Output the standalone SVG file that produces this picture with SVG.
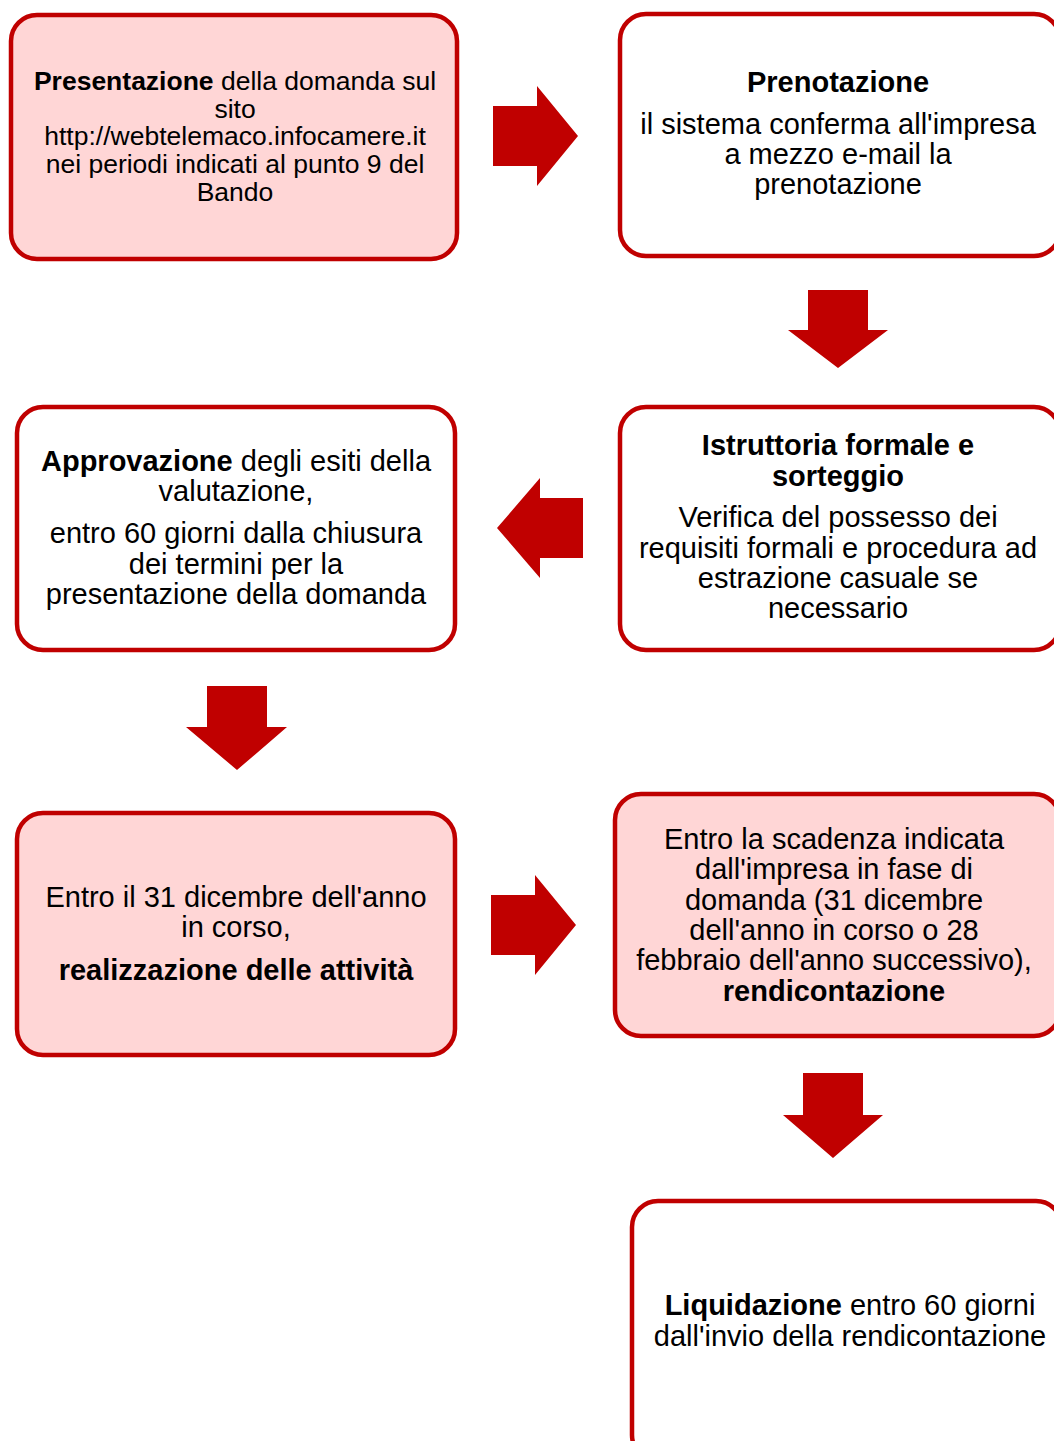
<svg xmlns="http://www.w3.org/2000/svg" width="1054" height="1441" viewBox="0 0 1054 1441">
<style>
.box{stroke:#C00000;stroke-width:4.5}
.pink{fill:#FFD6D6}
.white{fill:#FFFFFF}
.arr{fill:#C00000}
text{font-family:"Liberation Sans",Arial,sans-serif;font-size:29px;fill:#000;text-anchor:middle}
.s{font-size:26.5px}
.b{font-weight:bold}
</style>
<rect width="1054" height="1441" fill="#FFFFFF"/>
<g id="connectors">
<polygon class="arr" points="493,106 537,106 537,86 578,136 537,186 537,166 493,166"/>
<polygon class="arr" points="808,290 868,290 868,330 888,330 838,368 788,330 808,330"/>
<polygon class="arr" points="583,498 540,498 540,478 497,528 540,578 540,558 583,558"/>
<polygon class="arr" points="207,686 267,686 267,727 287,727 237,770 186,727 207,727"/>
<polygon class="arr" points="491,895 535,895 535,875 576,925 535,975 535,955 491,955"/>
<polygon class="arr" points="803,1073 863,1073 863,1115 883,1115 833,1158 783,1115 803,1115"/>
</g>
<g id="node1">
<rect class="box pink" x="11" y="15" width="446" height="244" rx="26"/>
<text class="s" x="235" y="90"><tspan class="b">Presentazione</tspan> della domanda sul</text>
<text class="s" x="235" y="118">sito</text>
<text class="s" x="235" y="145">http://webtelemaco.infocamere.it</text>
<text class="s" x="235" y="173">nei periodi indicati al punto 9 del</text>
<text class="s" x="235" y="201">Bando</text>
</g>
<g id="node2">
<rect class="box white" x="620" y="14" width="440" height="242" rx="26"/>
<text class="b" x="838" y="92">Prenotazione</text>
<text x="838" y="134">il sistema conferma all'impresa</text>
<text x="838" y="164">a mezzo e-mail la</text>
<text x="838" y="194">prenotazione</text>
</g>
<g id="node3">
<rect class="box white" x="620" y="407" width="440" height="243" rx="26"/>
<text class="b" x="838" y="455">Istruttoria formale e</text>
<text class="b" x="838" y="486">sorteggio</text>
<text x="838" y="527">Verifica del possesso dei</text>
<text x="838" y="558">requisiti formali e procedura ad</text>
<text x="838" y="588">estrazione casuale se</text>
<text x="838" y="618">necessario</text>
</g>
<g id="node4">
<rect class="box white" x="17" y="407" width="438" height="243" rx="26"/>
<text x="236" y="471"><tspan class="b">Approvazione</tspan> degli esiti della</text>
<text x="236" y="501">valutazione,</text>
<text x="236" y="543">entro 60 giorni dalla chiusura</text>
<text x="236" y="574">dei termini per la</text>
<text x="236" y="604">presentazione della domanda</text>
</g>
<g id="node5">
<rect class="box pink" x="17" y="813" width="438" height="242" rx="26"/>
<text x="236" y="907">Entro il 31 dicembre dell'anno</text>
<text x="236" y="937">in corso,</text>
<text class="b" x="236" y="980">realizzazione delle attività</text>
</g>
<g id="node6">
<rect class="box pink" x="615" y="794" width="445" height="242" rx="26"/>
<text x="834" y="849">Entro la scadenza indicata</text>
<text x="834" y="879">dall'impresa in fase di</text>
<text x="834" y="910">domanda (31 dicembre</text>
<text x="834" y="940">dell'anno in corso o 28</text>
<text x="834" y="970">febbraio dell'anno successivo),</text>
<text class="b" x="834" y="1001">rendicontazione</text>
</g>
<g id="node7">
<rect class="box white" x="632" y="1201" width="430" height="260" rx="26"/>
<text x="850" y="1315"><tspan class="b">Liquidazione</tspan> entro 60 giorni</text>
<text x="850" y="1346">dall'invio della rendicontazione</text>
</g>
</svg>
